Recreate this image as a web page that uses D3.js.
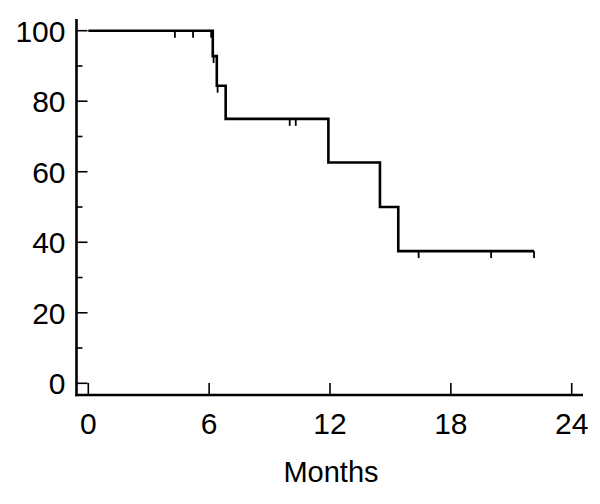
<!DOCTYPE html>
<html lang="en">
  <head>
    <meta charset="utf-8">
    <title>Survival</title>
    <style>
      html, body {
        margin: 0;
        background: white;
      }
      svg text {
        font-family: "Liberation Sans", Arial, sans-serif;
        fill: black;
      }
    </style>
    <script src="https://d3js.org/d3.v7.min.js"></script>
  </head>
  <body>
    <svg width="600" height="504"></svg>
  <script>
  // step curve: month where survival changes, and the new level (%)
  const stepMonths = [0, 6.18, 6.38, 6.82, 11.92, 14.48, 15.39, 22.13];
  const stepValues = [100, 92.8, 84.4, 75, 62.6, 50, 37.5, 37.5];
  // censored observations
  const censorMonths = [4.3, 5.2, 6.1, 6.22, 6.42, 10.0, 10.3, 16.4, 20.0, 22.13];
  const censorValues = [100, 100, 100, 92.8, 84.4, 75, 75, 37.5, 37.5, 37.5];

  const xTicks = [0, 6, 12, 18, 24];
  const yTicks = [0, 20, 40, 60, 80, 100];
  const yMinorTicks = [10, 30, 50, 70, 90];

  const svg = d3.select('svg');

  const x = d3.scaleLinear().domain([0, 24]).range([88.3, 571.7]);
  const y = d3.scaleLinear().domain([0, 100]).range([383.3, 30.7]);

  const axisLeftX = 76.5;
  const axisBottomY = 395;

  // y axis
  const yAxis = svg.append('g')
    .attr('transform', `translate(${axisLeftX},0)`);
  yAxis.append('line')
    .attr('x1', 0).attr('x2', 0)
    .attr('y1', 19).attr('y2', axisBottomY + 1.2)
    .attr('stroke', 'black').attr('stroke-width', 2.6);
  yAxis.selectAll('.major')
    .data(yTicks)
    .enter().append('line')
    .attr('x1', 0).attr('x2', 11)
    .attr('y1', d => y(d)).attr('y2', d => y(d))
    .attr('stroke', 'black').attr('stroke-width', 1.6);
  yAxis.selectAll('.minor')
    .data(yMinorTicks)
    .enter().append('line')
    .attr('x1', 0).attr('x2', 6)
    .attr('y1', d => y(d)).attr('y2', d => y(d))
    .attr('stroke', 'black').attr('stroke-width', 1.6);
  yAxis.selectAll('text')
    .data(yTicks)
    .enter().append('text')
    .attr('x', -11)
    .attr('y', d => y(d))
    .attr('dy', '0.36em')
    .attr('text-anchor', 'end')
    .style('font-size', '30px')
    .text(d => d);

  // x axis
  const xAxis = svg.append('g')
    .attr('transform', `translate(0,${axisBottomY})`);
  xAxis.append('line')
    .attr('x1', axisLeftX - 1.3).attr('x2', 583)
    .attr('y1', 0).attr('y2', 0)
    .attr('stroke', 'black').attr('stroke-width', 2.6);
  xAxis.selectAll('.tick')
    .data(xTicks)
    .enter().append('line')
    .attr('x1', d => x(d)).attr('x2', d => x(d))
    .attr('y1', 0).attr('y2', -12)
    .attr('stroke', 'black').attr('stroke-width', 1.6);
  xAxis.selectAll('text')
    .data(xTicks)
    .enter().append('text')
    .attr('x', d => x(d))
    .attr('y', 38.5)
    .attr('text-anchor', 'middle')
    .style('font-size', '30px')
    .text(d => d);

  svg.append('text')
    .attr('x', (x(0) + x(24)) / 2 + 1)
    .attr('y', 481.5)
    .attr('text-anchor', 'middle')
    .style('font-size', '29px')
    .text('Months');

  // survival curve
  const pts = stepMonths.map((m, i) => [m, stepValues[i]]);
  const line = d3.line()
    .x(d => x(d[0]))
    .y(d => y(d[1]))
    .curve(d3.curveStepAfter);
  svg.append('path')
    .attr('d', line(pts))
    .attr('fill', 'none')
    .attr('stroke', 'black')
    .attr('stroke-width', 2.6);

  // censor marks hang below the line
  svg.append('g').selectAll('line')
    .data(censorMonths.map((m, i) => [m, censorValues[i]]))
    .enter().append('line')
    .attr('x1', d => x(d[0])).attr('x2', d => x(d[0]))
    .attr('y1', d => y(d[1])).attr('y2', d => y(d[1]) + 7)
    .attr('stroke', 'black').attr('stroke-width', 1.8);
  </script>
  </body>
</html>
